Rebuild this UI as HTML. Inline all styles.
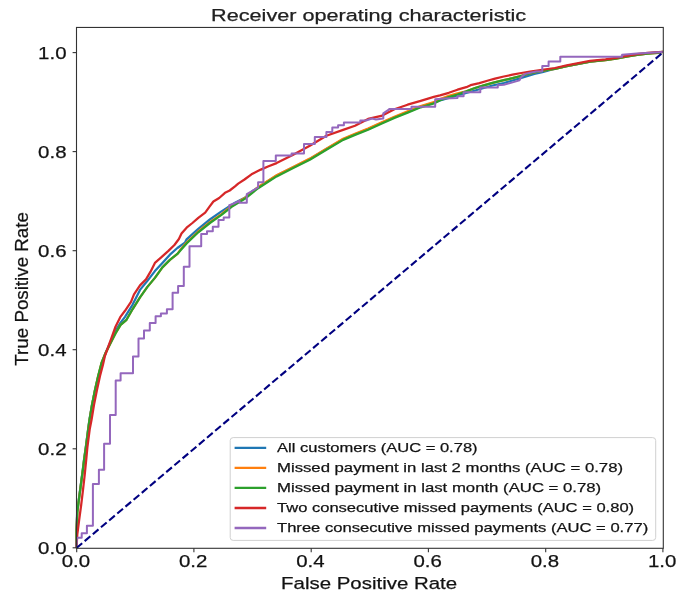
<!DOCTYPE html>
<html><head><meta charset="utf-8"><style>
html,body{margin:0;padding:0;background:#fff;width:685px;height:602px;overflow:hidden;font-family:"Liberation Sans",sans-serif}
svg{display:block;filter:blur(0.4px)}
text{font-family:"Liberation Sans",sans-serif;stroke:#1a1a1a;stroke-width:0.25px}
</style></head><body>
<svg width="685" height="602" viewBox="0 0 685 602">
<rect width="685" height="602" fill="#fff"/>
<text x="368.6" y="21" font-size="17.2" text-anchor="middle" fill="#222"  textLength="315" lengthAdjust="spacingAndGlyphs">Receiver operating characteristic</text>
<polyline points="76.5,548.0 76.5,530.0 77.2,512.0 79.1,497.3 81.1,482.4 82.9,469.0 84.0,460.0 85.8,447.2 88.1,429.3 89.4,420.0 92.0,404.9 95.0,389.9 98.3,376.3 101.8,363.0 106.0,352.0 111.0,341.0 116.0,330.0 120.0,323.5 125.0,316.8 132.5,304.8 140.0,289.9 147.4,280.9 154.9,271.1 162.4,262.9 169.9,254.7 177.4,248.0 184.9,242.7 186.6,239.3 198.3,228.8 209.9,219.5 221.5,211.4 235.0,202.7 244.8,197.8 253.0,190.7 269.7,180.0 276.6,175.6 293.2,167.3 309.8,159.0 326.4,149.0 343.1,139.2 355.0,134.2 368.1,129.0 381.3,123.0 394.4,117.2 407.6,112.0 420.7,106.7 433.8,102.8 440.0,100.4 448.8,97.8 457.5,95.5 466.3,93.0 475.0,90.5 483.8,88.0 492.5,85.5 503.8,83.0 512.5,80.5 521.3,77.8 534.4,73.8 542.3,72.1 555.0,68.6 566.7,66.2 578.4,63.9 590.1,61.6 605.5,60.0 616.0,58.5 626.5,56.4 637.0,54.8 647.6,53.3 658.1,52.4 662.8,51.9" fill="none" stroke="#1f77b4" stroke-width="2.25" stroke-linejoin="round"/>
<polyline points="76.5,548.0 76.6,530.0 77.3,512.0 79.2,497.3 81.2,482.4 83.0,469.0 84.1,460.0 85.9,447.2 88.2,429.3 89.5,420.0 92.0,404.9 95.0,389.9 98.1,376.3 101.5,363.0 105.6,353.0 110.6,343.1 115.6,333.2 120.6,324.9 126.5,319.8 132.5,309.3 140.0,297.3 147.4,286.9 154.9,277.9 162.4,267.4 169.9,259.9 177.4,253.9 180.8,249.2 186.6,242.6 198.3,231.5 209.9,222.2 221.5,214.1 231.6,206.0 244.8,198.0 258.1,187.0 269.7,179.6 276.6,175.2 293.2,166.9 309.8,158.6 326.4,148.6 343.1,138.7 355.0,133.7 368.1,128.5 381.3,122.6 394.4,116.7 407.6,111.4 420.7,106.1 433.8,102.2 440.0,99.0 448.8,95.9 457.5,93.3 466.3,91.3 475.0,88.0 483.8,85.3 492.5,82.9 503.8,80.2 512.5,78.2 518.6,76.5 528.0,74.0 537.0,72.0 547.5,69.8 555.0,68.8 566.7,66.2 578.4,63.9 590.1,61.6 605.5,60.2 616.0,58.7 626.5,56.6 637.0,55.0 647.6,53.6 658.1,52.9 662.8,51.9" fill="none" stroke="#ff7f0e" stroke-width="2.25" stroke-linejoin="round"/>
<polyline points="76.5,548.0 76.6,530.0 77.3,512.0 79.2,497.3 81.2,482.4 83.0,469.0 84.1,460.0 85.9,447.2 88.2,429.3 89.5,420.0 92.0,404.9 95.0,389.9 98.1,376.3 101.5,363.0 105.6,353.0 110.6,343.1 115.6,333.2 120.6,324.9 126.5,319.8 132.5,309.3 140.0,297.3 147.4,286.9 154.9,277.9 162.4,267.4 169.9,259.9 177.4,253.9 180.8,250.0 186.6,243.4 198.3,232.3 209.9,223.0 221.5,214.9 231.6,206.8 244.8,198.8 258.1,188.2 269.7,180.8 276.6,176.4 293.2,168.1 309.8,159.8 326.4,149.8 343.1,139.9 355.0,134.9 368.1,129.7 381.3,123.8 394.4,117.9 407.6,112.6 420.7,107.3 433.8,103.4 440.0,100.2 448.8,97.1 457.5,94.5 466.3,91.3 475.0,88.0 483.8,85.3 492.5,82.9 503.8,80.2 512.5,78.2 518.6,76.5 528.0,74.0 537.0,72.0 547.5,69.8 555.0,68.8 566.7,66.2 578.4,63.9 590.1,61.6 605.5,60.2 616.0,58.7 626.5,56.6 637.0,55.0 647.6,53.6 658.1,52.9 662.8,51.9" fill="none" stroke="#2ca02c" stroke-width="2.25" stroke-linejoin="round"/>
<polyline points="76.5,548.0 77.3,534.6 79.2,519.7 81.2,504.8 83.0,489.9 84.7,474.9 86.2,460.0 87.4,447.2 89.7,429.3 91.5,420.0 94.0,404.9 97.0,389.9 100.0,376.0 102.9,365.0 104.8,356.4 108.9,344.8 111.4,338.1 115.6,326.5 120.6,316.6 125.0,310.8 131.0,301.8 134.0,294.3 140.0,285.4 146.0,279.4 150.4,271.9 154.9,262.9 160.9,257.7 168.4,250.9 174.4,245.0 178.9,239.0 181.5,233.5 186.6,227.7 192.4,223.0 198.3,217.8 205.2,212.6 209.9,206.2 213.4,201.5 219.2,198.0 225.0,192.8 229.7,190.5 235.0,186.4 238.2,183.6 244.5,179.5 251.5,174.3 260.8,169.6 268.0,166.5 276.6,163.1 293.2,154.8 309.8,145.7 326.4,135.7 343.1,129.9 355.0,125.7 368.1,118.9 381.3,115.9 394.4,109.3 407.6,104.7 420.7,100.8 433.8,96.8 440.0,95.4 448.8,92.8 457.5,89.7 466.3,87.2 470.6,85.2 479.4,83.1 488.2,80.5 495.0,78.6 503.8,76.5 512.5,74.7 521.3,73.0 530.0,71.6 537.0,70.6 547.5,69.0 555.0,68.0 566.7,65.4 578.4,63.1 590.1,60.8 605.5,59.4 616.0,57.9 626.5,55.8 637.0,54.2 647.6,52.8 658.1,52.1 662.8,51.9" fill="none" stroke="#d62728" stroke-width="2.25" stroke-linejoin="round"/>
<polyline points="76.5,548.0 76.9,537.7 81.7,537.7 81.7,533.2 86.9,533.2 86.9,525.8 92.9,525.8 92.9,483.9 98.9,483.9 98.9,469.7 104.1,469.7 104.1,443.8 110.0,443.8 110.0,415.0 115.7,415.0 115.7,380.5 120.6,380.5 120.6,373.3 133.0,373.3 133.0,356.5 138.5,356.5 138.5,338.5 144.0,338.5 144.0,330.5 149.8,330.5 149.8,323.0 155.6,323.0 155.6,316.2 160.9,316.2 160.9,313.5 166.9,313.5 166.9,309.3 172.6,309.3 172.6,292.8 178.1,292.8 178.1,286.1 183.8,286.1 183.8,266.7 189.5,266.7 189.5,246.3 201.2,246.3 201.2,234.1 207.0,234.1 207.0,231.2 212.8,231.2 212.8,226.8 218.5,226.8 218.5,220.0 223.7,220.0 223.7,217.5 229.3,217.5 229.3,205.3 234.0,203.5 239.5,200.8 239.5,202.8 246.8,202.8 246.8,194.2 252.0,191.0 258.1,187.5 258.1,182.2 263.4,182.2 263.4,161.0 275.8,161.0 275.8,155.6 291.6,155.6 291.6,153.5 304.0,153.5 304.0,144.0 314.8,144.0 314.8,136.9 326.4,136.9 326.4,131.9 332.3,131.9 332.3,127.4 338.1,127.4 338.1,125.2 343.9,125.2 343.9,122.4 360.3,122.4 360.3,120.5 366.0,120.5 372.0,118.5 376.0,119.5 383.3,118.5 383.3,113.3 389.2,109.3 389.2,108.9 411.5,108.9 411.5,106.7 435.2,106.7 435.2,99.2 445.0,98.4 457.5,98.0 457.5,96.3 463.6,96.3 463.6,92.3 480.3,92.3 480.3,87.5 497.8,87.5 497.8,85.2 503.8,84.8 519.5,80.4 521.3,76.9 525.6,73.8 536.2,71.6 542.3,71.3 542.3,65.9 548.6,66.0 548.6,61.4 560.3,61.4 560.3,56.7 622.1,56.7 622.1,54.7 637.0,53.5 662.8,51.9" fill="none" stroke="#9467bd" stroke-width="2.0" stroke-linejoin="round"/>
<line x1="76.5" y1="548.0" x2="663.0" y2="52.4" stroke="#000080" stroke-width="2.1" stroke-dasharray="7.45 3.23"/>
<rect x="76.5" y="27.45" width="586.8" height="520.85" fill="none" stroke="#333" stroke-width="1.1"/>
<line x1="76.7" y1="548.3" x2="76.7" y2="552.2" stroke="#333" stroke-width="1.1"/>
<line x1="72.6" y1="547.8" x2="76.5" y2="547.8" stroke="#333" stroke-width="1.1"/>
<text x="75.9" y="567.1" font-size="16.5" text-anchor="middle" fill="#111"  textLength="28.4" lengthAdjust="spacingAndGlyphs">0.0</text>
<text x="66.5" y="553.8" font-size="16.5" text-anchor="end" fill="#111"  textLength="28.4" lengthAdjust="spacingAndGlyphs">0.0</text>
<line x1="193.9" y1="548.3" x2="193.9" y2="552.2" stroke="#333" stroke-width="1.1"/>
<line x1="72.6" y1="448.8" x2="76.5" y2="448.8" stroke="#333" stroke-width="1.1"/>
<text x="193.1" y="567.1" font-size="16.5" text-anchor="middle" fill="#111"  textLength="28.4" lengthAdjust="spacingAndGlyphs">0.2</text>
<text x="66.5" y="454.8" font-size="16.5" text-anchor="end" fill="#111"  textLength="28.4" lengthAdjust="spacingAndGlyphs">0.2</text>
<line x1="311.2" y1="548.3" x2="311.2" y2="552.2" stroke="#333" stroke-width="1.1"/>
<line x1="72.6" y1="349.7" x2="76.5" y2="349.7" stroke="#333" stroke-width="1.1"/>
<text x="310.4" y="567.1" font-size="16.5" text-anchor="middle" fill="#111"  textLength="28.4" lengthAdjust="spacingAndGlyphs">0.4</text>
<text x="66.5" y="355.7" font-size="16.5" text-anchor="end" fill="#111"  textLength="28.4" lengthAdjust="spacingAndGlyphs">0.4</text>
<line x1="428.4" y1="548.3" x2="428.4" y2="552.2" stroke="#333" stroke-width="1.1"/>
<line x1="72.6" y1="250.7" x2="76.5" y2="250.7" stroke="#333" stroke-width="1.1"/>
<text x="427.6" y="567.1" font-size="16.5" text-anchor="middle" fill="#111"  textLength="28.4" lengthAdjust="spacingAndGlyphs">0.6</text>
<text x="66.5" y="256.7" font-size="16.5" text-anchor="end" fill="#111"  textLength="28.4" lengthAdjust="spacingAndGlyphs">0.6</text>
<line x1="545.7" y1="548.3" x2="545.7" y2="552.2" stroke="#333" stroke-width="1.1"/>
<line x1="72.6" y1="151.6" x2="76.5" y2="151.6" stroke="#333" stroke-width="1.1"/>
<text x="544.9" y="567.1" font-size="16.5" text-anchor="middle" fill="#111"  textLength="28.4" lengthAdjust="spacingAndGlyphs">0.8</text>
<text x="66.5" y="157.6" font-size="16.5" text-anchor="end" fill="#111"  textLength="28.4" lengthAdjust="spacingAndGlyphs">0.8</text>
<line x1="662.9" y1="548.3" x2="662.9" y2="552.2" stroke="#333" stroke-width="1.1"/>
<line x1="72.6" y1="52.6" x2="76.5" y2="52.6" stroke="#333" stroke-width="1.1"/>
<text x="662.1" y="567.1" font-size="16.5" text-anchor="middle" fill="#111"  textLength="28.4" lengthAdjust="spacingAndGlyphs">1.0</text>
<text x="66.5" y="58.6" font-size="16.5" text-anchor="end" fill="#111"  textLength="28.4" lengthAdjust="spacingAndGlyphs">1.0</text>
<text x="369.1" y="588.5" font-size="17.2" text-anchor="middle" fill="#111"  textLength="176" lengthAdjust="spacingAndGlyphs">False Positive Rate</text>
<text transform="translate(28.4,288.9) rotate(-90)" x="0" y="0" font-size="17.7" text-anchor="middle" fill="#111"  textLength="153.6" lengthAdjust="spacingAndGlyphs">True Positive Rate</text>
<rect x="230.2" y="437.6" width="425.5" height="102.8" rx="3" ry="3" fill="#fff" fill-opacity="0.8" stroke="#d0d0d0" stroke-width="1"/>
<line x1="234.6" y1="447.8" x2="266.2" y2="447.8" stroke="#1f77b4" stroke-width="2.3"/>
<text x="277" y="451.8" font-size="13.2" fill="#111"  textLength="200.6" lengthAdjust="spacingAndGlyphs">All customers (AUC = 0.78)</text>
<line x1="234.6" y1="467.9" x2="266.2" y2="467.9" stroke="#ff7f0e" stroke-width="2.3"/>
<text x="277" y="471.9" font-size="13.2" fill="#111"  textLength="346.0" lengthAdjust="spacingAndGlyphs">Missed payment in last 2 months (AUC = 0.78)</text>
<line x1="234.6" y1="487.9" x2="266.2" y2="487.9" stroke="#2ca02c" stroke-width="2.3"/>
<text x="277" y="491.9" font-size="13.2" fill="#111"  textLength="324.2" lengthAdjust="spacingAndGlyphs">Missed payment in last month (AUC = 0.78)</text>
<line x1="234.6" y1="508.0" x2="266.2" y2="508.0" stroke="#d62728" stroke-width="2.3"/>
<text x="277" y="512.0" font-size="13.2" fill="#111"  textLength="357.1" lengthAdjust="spacingAndGlyphs">Two consecutive missed payments (AUC = 0.80)</text>
<line x1="234.6" y1="528.0" x2="266.2" y2="528.0" stroke="#9467bd" stroke-width="2.3"/>
<text x="277" y="532.0" font-size="13.2" fill="#111"  textLength="371.2" lengthAdjust="spacingAndGlyphs">Three consecutive missed payments (AUC = 0.77)</text>
</svg>
</body></html>
